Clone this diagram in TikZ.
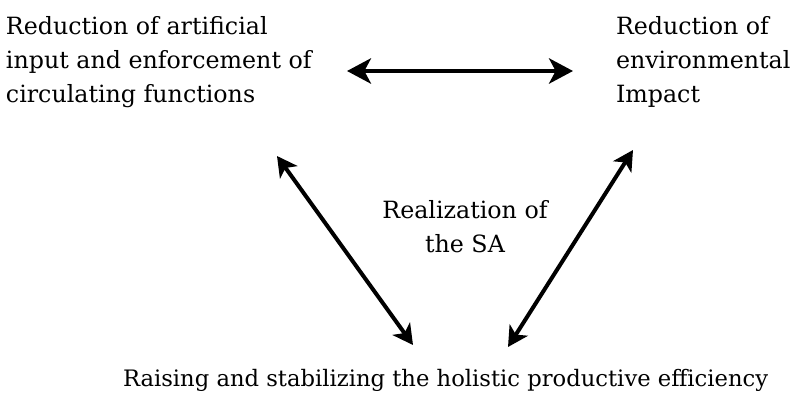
\documentclass[tikz,border=0pt]{standalone}
\usepackage{fontspec}
\setmainfont{DejaVu Serif}
\usetikzlibrary{arrows.meta}
\begin{document}
\begin{tikzpicture}[x=0.75pt,y=-0.75pt,
  lbl/.style={inner sep=0pt,outer sep=0pt,align=left,anchor=base west,
    font=\fontsize{17pt}{25.5pt}\selectfont},
  big/.style={font=\fontsize{17.8pt}{25.5pt}\selectfont},
  dbl/.style={line width=3pt,{Stealth[length=18pt,width=19pt,inset=5pt]}-{Stealth[length=18pt,width=19pt,inset=5pt]}},
  dbls/.style={line width=3pt,{Stealth[length=15pt,width=16pt,inset=4pt]}-{Stealth[length=15pt,width=16pt,inset=4pt]}}]
\useasboundingbox (0,0) rectangle (793,393);
\node[lbl,big] (tl) at (6,102) {Reduction of artificial\\input and enforcement of\\circulating functions};
\node[lbl,big] (tr) at (616,102) {Reduction of\\environmental\\Impact};
\node[lbl,big,align=center,anchor=base] (mid) at (465,252) {Realization of\\the SA};
\node[lbl] (bot) at (123,386) {Raising and stabilizing the holistic productive efficiency};
\coordinate (h1) at (347,71);
\coordinate (h2) at (573,71);
\coordinate (l1) at (277,156);
\coordinate (l2) at (413,345);
\coordinate (r1) at (633,150);
\coordinate (r2) at (508,347);
\draw[dbl] (h1) -- (h2);
\draw[dbls] (l1) -- (l2);
\draw[dbls] (r1) -- (r2);
\end{tikzpicture}
\end{document}
